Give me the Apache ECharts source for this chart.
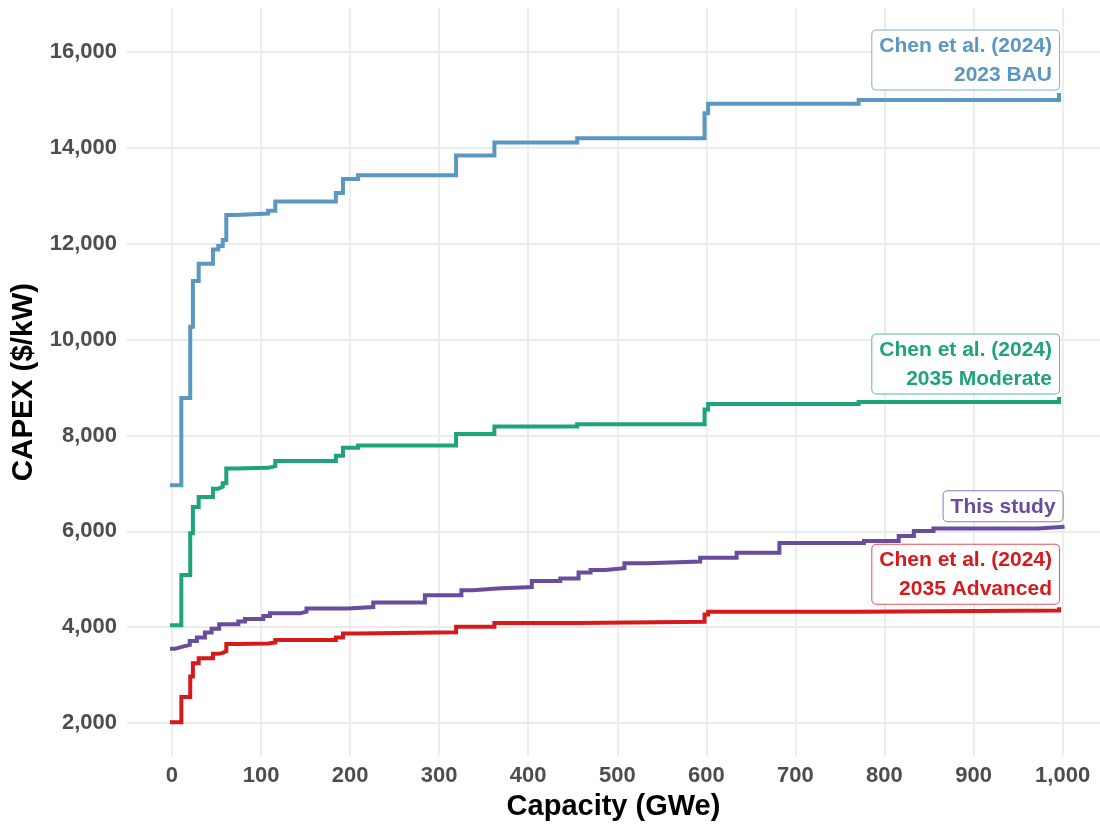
<!DOCTYPE html>
<html>
<head>
<meta charset="utf-8">
<script src="https://cdn.jsdelivr.net/npm/echarts@6/dist/echarts.min.js"></script>
<style>
  html, body { margin: 0; padding: 0; background: #ffffff; }
  #chart { width: 1100px; height: 826px; }
</style>
</head>
<body>
<div id="chart"></div>
<script>
// ---- Data ----
// Step points: from each capacity value onward, the cost is the given value.
const chenCapacity = [0, 10.5, 20.5, 23.5, 30, 46, 52, 57, 61, 72, 108, 116, 184, 192, 209, 319, 362, 455, 598, 602, 771, 996];
const bau2023 = [6960, 8780, 10270, 11220, 11580, 11880, 11950, 12080, 12600, 12630, 12690, 12880, 13060, 13350, 13430, 13840, 14110, 14200, 14720, 14920, 15000, 15100];
const moderate2035 = [4040, 5090, 5960, 6510, 6715, 6890, 6930, 7005, 7310, 7325, 7360, 7470, 7575, 7745, 7790, 8030, 8185, 8235, 8540, 8655, 8700, 8760];
const advanced2035 = [2020, 2545, 2975, 3250, 3355, 3445, 3465, 3500, 3650, 3660, 3680, 3735, 3785, 3870, 3895, 4010, 4090, 4115, 4265, 4325, 4350, 4375];

const studyCapacity = [0, 3.4, 11, 20, 28, 37, 44.5, 53, 74.5, 82, 102.5, 110, 144, 151, 198, 226, 284, 325, 338, 365, 404, 436, 456.5, 470, 486.5, 508, 533, 593, 634, 682, 777, 816, 833, 855, 972, 1000];
const thisStudy = [3550, 3590, 3630, 3715, 3785, 3890, 3970, 4060, 4120, 4170, 4235, 4290, 4325, 4390, 4420, 4515, 4665, 4770, 4810, 4840, 4965, 5015, 5140, 5195, 5230, 5335, 5370, 5450, 5555, 5755, 5800, 5905, 6005, 6060, 6095, 6095];

const xTicks = [0, 100, 200, 300, 400, 500, 600, 700, 800, 900, 1000];
const yTicks = [2000, 4000, 6000, 8000, 10000, 12000, 14000, 16000];

const seriesDefs = [
  { name: 'Chen et al. (2024) 2023 BAU', label: 'Chen et al. (2024)\n2023 BAU', xs: chenCapacity, ys: bau2023, color: '#5B97C1', border: 'rgba(91,151,193,0.75)' },
  { name: 'Chen et al. (2024) 2035 Moderate', label: 'Chen et al. (2024)\n2035 Moderate', xs: chenCapacity, ys: moderate2035, color: '#1FA37A', border: 'rgba(31,163,122,0.75)' },
  { name: 'This study', label: 'This study', xs: studyCapacity, ys: thisStudy, color: '#6A4C9C', border: 'rgba(106,76,156,0.75)' },
  { name: 'Chen et al. (2024) 2035 Advanced', label: 'Chen et al. (2024)\n2035 Advanced', xs: chenCapacity, ys: advanced2035, color: '#D7191C', border: 'rgba(215,25,28,0.75)' }
];

const FONT = '"Liberation Sans", Arial, Helvetica, sans-serif';
const fmt = v => Number(v).toLocaleString('en-US');

const series = seriesDefs.map(d => {
  const data = d.xs.map((x, i) => [x, d.ys[i]]);
  const last = data[data.length - 1];
  return {
    name: d.name,
    type: 'line',
    step: 'end',
    data: data,
    showSymbol: false,
    symbol: 'none',
    lineStyle: { color: d.color, width: 4, cap: 'square', join: 'miter' },
    itemStyle: { color: d.color },
    silent: true,
    animation: false,
    markPoint: {
      symbol: 'rect',
      symbolSize: 1,
      silent: true,
      animation: false,
      itemStyle: { color: 'rgba(0,0,0,0)' },
      data: [{ coord: last }],
      label: {
        show: true,
        position: 'top',
        distance: 5,
        align: 'right',
        formatter: d.label,
        color: d.color,
        fontFamily: FONT,
        fontWeight: 'bold',
        fontSize: 21,
        lineHeight: 29,
        backgroundColor: '#ffffff',
        borderColor: d.border,
        borderWidth: 1,
        borderRadius: 4,
        padding: [1, 7, 0, 7]
      }
    }
  };
});

const chart = echarts.init(document.getElementById('chart'), null, { renderer: 'canvas' });
chart.setOption({
  backgroundColor: '#ffffff',
  animation: false,
  grid: { left: 127, right: 0, top: 8, bottom: 69, containLabel: false },
  xAxis: {
    type: 'value',
    min: -50.5,
    max: 1042,
    name: 'Capacity (GWe)',
    nameLocation: 'middle',
    nameGap: 33,
    nameTextStyle: { fontFamily: FONT, fontWeight: 'bold', fontSize: 29, color: '#000000' },
    axisLine: { show: false },
    axisTick: { show: false, customValues: xTicks },
    axisLabel: {
      customValues: xTicks,
      formatter: fmt,
      margin: 9,
      fontFamily: FONT, fontWeight: 'bold', fontSize: 22, color: '#4D4D4D'
    },
    splitLine: { show: true, lineStyle: { color: '#EBEBEB', width: 1.8 } }
  },
  yAxis: {
    type: 'value',
    min: 1312,
    max: 16917,
    name: 'CAPEX ($/kW)',
    nameLocation: 'middle',
    nameGap: 80,
    nameTextStyle: { fontFamily: FONT, fontWeight: 'bold', fontSize: 29.5, color: '#000000' },
    axisLine: { show: false },
    axisTick: { show: false, customValues: yTicks },
    axisLabel: {
      customValues: yTicks,
      formatter: fmt,
      margin: 10,
      fontFamily: FONT, fontWeight: 'bold', fontSize: 22, color: '#4D4D4D'
    },
    splitLine: { show: true, lineStyle: { color: '#EBEBEB', width: 1.8 } }
  },
  series: series
});
</script>
</body>
</html>
